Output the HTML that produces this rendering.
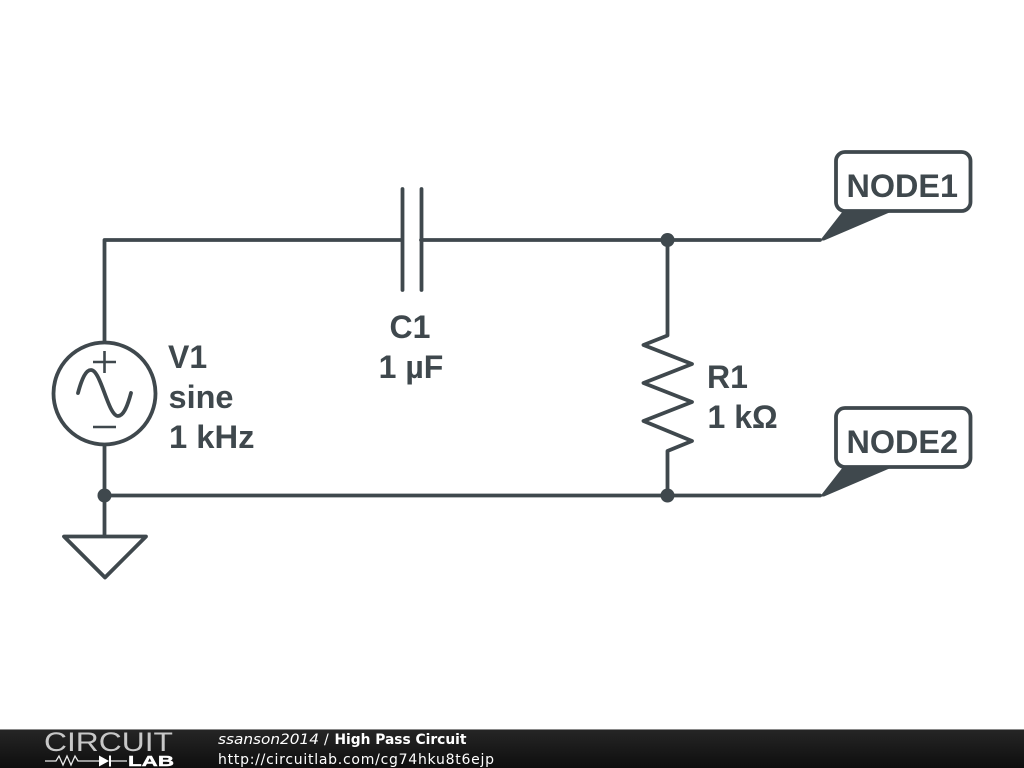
<!DOCTYPE html>
<html>
<head>
<meta charset="utf-8">
<style>
html,body{margin:0;padding:0;background:#fff;width:1024px;height:768px;overflow:hidden}
svg{display:block}
.t{font-family:"Liberation Sans",sans-serif;font-weight:bold;font-size:32px;fill:#3f484d}
.f{font-family:"DejaVu Sans",sans-serif;font-size:14px;fill:#fff}
</style>
</head>
<body>
<svg width="1024" height="768" viewBox="0 0 1024 768" xmlns="http://www.w3.org/2000/svg">
<defs>
<linearGradient id="bar" x1="0" y1="0" x2="0" y2="1">
<stop offset="0" stop-color="#262626"/>
<stop offset="1" stop-color="#0e0e0e"/>
</linearGradient>
</defs>
<rect width="1024" height="768" fill="#fff"/>
<g fill="none" stroke="#3f484d" stroke-width="3.800" stroke-linecap="round" stroke-linejoin="round">
<path d="M104.500 341V240H402M421 240H820"/>
<path d="M402.500 189V290M421.500 189V290"/>
<path d="M104.500 445V536"/>
<path d="M104.500 495.500H820"/>
<path d="M667.500 240V335.500L643.500 345L692 364L643.500 383L692 402L643.500 421L692 441L667.500 451V495"/>
<circle cx="104.500" cy="393.500" r="51"/>
<path d="M78 393C82 378 86 370 91 370C101 370 108 416 118 416C123 416 127 408 131 393"/>
<path d="M64 536.500H146L105 577.500Z"/>
<rect x="836" y="152" width="134.500" height="59" rx="9"/>
<rect x="836" y="408" width="134.500" height="59" rx="9"/>
<path d="M93 362H116M104.500 351V373M93 427H116" stroke-width="2.600" stroke-linecap="butt"/>
</g>
<g fill="#3f484d">
<circle cx="667.500" cy="240" r="7"/>
<circle cx="667.500" cy="495.500" r="7"/>
<circle cx="104.500" cy="495.500" r="7"/>
<path d="M820 240.500L843 211H893L824 240.500Z"/>
<path d="M820 496.500L843 467H893L824 496.500Z"/>
</g>
<text class="t" x="846.500" y="197" textLength="111.500" lengthAdjust="spacingAndGlyphs">NODE1</text>
<text class="t" x="846.500" y="453" textLength="111.500" lengthAdjust="spacingAndGlyphs">NODE2</text>
<text class="t" x="168" y="368">V1</text>
<text class="t" x="168.500" y="408" textLength="65" lengthAdjust="spacingAndGlyphs">sine</text>
<text class="t" x="169" y="448" textLength="85.500" lengthAdjust="spacingAndGlyphs">1 kHz</text>
<text class="t" x="410" y="338" text-anchor="middle">C1</text>
<text class="t" x="411" y="378" text-anchor="middle">1 µF</text>
<text class="t" x="707" y="388">R1</text>
<text class="t" x="707.500" y="428">1 kΩ</text>
<rect x="0" y="729" width="1024" height="39" fill="url(#bar)"/>
<rect x="0" y="729" width="1024" height="1" fill="#8a8a8a"/>
<text x="44" y="751" font-family="Liberation Sans, sans-serif" font-size="27" fill="#c8c8c8" textLength="129" lengthAdjust="spacingAndGlyphs">CIRCUIT</text>
<path d="M45 761H56L59 756L63 765L67 756L71 765L75 756L78 761H99M110 761H127" fill="none" stroke="#e8e8e8" stroke-width="1.300"/>
<path d="M99 755.500L109 761L99 766.500Z" fill="#fff"/>
<rect x="109" y="755.500" width="2" height="11" fill="#fff"/>
<text x="128" y="766" font-family="Liberation Sans, sans-serif" font-weight="bold" font-size="15" fill="#fff" stroke="#fff" stroke-width="0.400" textLength="46" lengthAdjust="spacingAndGlyphs">LAB</text>
<text class="f" x="218" y="744" font-style="italic" textLength="101" lengthAdjust="spacingAndGlyphs">ssanson2014</text>
<text class="f" x="324" y="744">/</text>
<text class="f" x="334.500" y="744" font-weight="bold" textLength="132" lengthAdjust="spacingAndGlyphs">High Pass Circuit</text>
<text class="f" x="218" y="764" textLength="276">http://circuitlab.com/cg74hku8t6ejp</text>
</svg>
</body>
</html>
